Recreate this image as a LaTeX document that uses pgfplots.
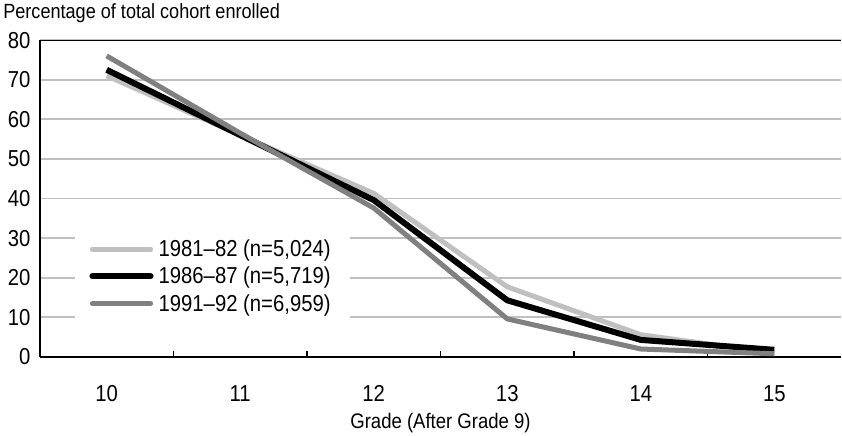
\documentclass[border=0pt]{standalone}
\usepackage{fontspec}
\setmainfont{Liberation Sans}[FakeStretch=0.88]
\usepackage{pgfplots}
\pgfplotsset{compat=1.18}
\definecolor{lightg}{HTML}{C0C0C0}
\definecolor{midg}{HTML}{808080}
\begin{document}
\begin{tikzpicture}
\begin{axis}[
    width=799pt, height=316pt, scale only axis,
    xmin=9.5, xmax=15.5, ymin=0, ymax=80,
    xtick={10,11,12,13,14,15},
    minor xtick={10.5,11.5,12.5,13.5,14.5},
    major tick length=0pt, minor tick length=6pt,
    tick align=inside, tick pos=left,
    ytick={0,10,...,80},
    ymajorgrids, grid style={lightg, line width=1.8pt},
    axis x line*=bottom, axis y line*=left,
    axis line style={-, line width=1.6pt},
    every tick/.style={black, line width=1.2pt},
    /pgf/number format/assume math mode=true,
    tick label style={font=\fontsize{23}{25}\selectfont},
    xticklabel style={yshift=-25pt},
    yticklabel style={xshift=-6pt},
    xlabel={Grade (After Grade 9)},
    xlabel style={font=\fontsize{21}{23}\selectfont, yshift=-4pt},
    title={Percentage of total cohort enrolled},
    title style={at={(rel axis cs:0,1)}, anchor=south west, xshift=-40pt, yshift=8pt,
                 font=\fontsize{20.5}{22}\selectfont},
    legend style={at={(rel axis cs:0.044,0.395)}, anchor=north west, draw=none, fill=white,
                  font=\fontsize{23}{25}\selectfont, row sep=5pt,
                  inner xsep=14pt, inner ysep=6pt,
                  nodes={inner xsep=5pt}},
    legend cell align=left,
    legend image code/.code={\draw[#1, line cap=round] (0pt,0pt) -- (58pt,0pt);},
    line join=round,
]
\addplot[lightg, line width=5pt] coordinates {
  (10,71) (11,56) (12,41.3) (13,17.7) (14,5.6) (15,1.0)};
\addlegendentry{1981--82 (n=5,024)}
\addplot[black, line width=6pt] coordinates {
  (10,72.5) (11,56) (12,39.6) (13,14.3) (14,4.3) (15,1.8)};
\addlegendentry{1986--87 (n=5,719)}
\addplot[midg, line width=5pt] coordinates {
  (10,76) (11,56.5) (12,37.6) (13,9.6) (14,2.0) (15,0.8)};
\addlegendentry{1991--92 (n=6,959)}
\draw[black, line width=1.6pt] (rel axis cs:0,1) -- (rel axis cs:1,1);
\end{axis}
\end{tikzpicture}
\end{document}
